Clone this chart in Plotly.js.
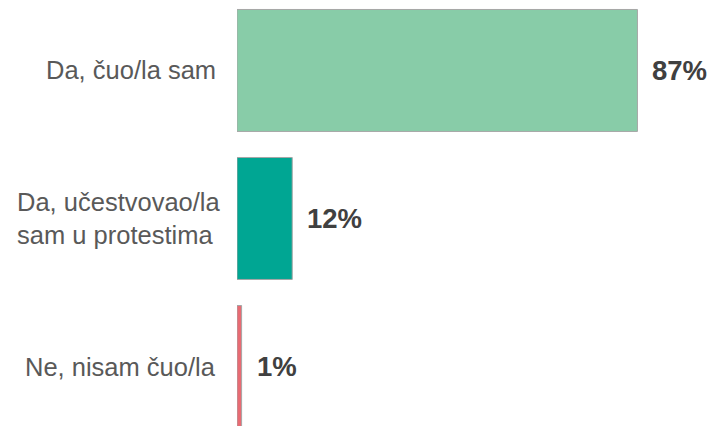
<!DOCTYPE html>
<html>
<head>
<meta charset="utf-8">
<script src="https://cdn.plot.ly/plotly-3.0.1.min.js"></script>
<style>html,body{margin:0;padding:0;background:#fff;}#chart{width:712px;height:426px;}</style>
</head>
<body>
<div id="chart"></div>
<script>
const categories = ["Da, čuo/la sam", "Da, učestvovao/la<br>sam u protestima", "Ne, nisam čuo/la"];
const values = [87, 12, 1];
const valueLabels = ["87%", "12%", "1%"];
const colors = ["#88CCA8", "#00A693", "#E86B73"];

const FONT = "Arial, 'Liberation Sans', sans-serif";

const trace = {
  type: "bar",
  orientation: "h",
  y: categories,
  x: values,
  marker: { color: colors, line: { color: "#A6A6A6", width: 1 } },
  width: 0.824,
  hoverinfo: "none"
};

const annotations = [];
categories.forEach((c, i) => {
  const multi = c.indexOf("<br>") >= 0;
  annotations.push({
    x: values[i], y: c, xref: "x", yref: "y",
    text: valueLabels[i], showarrow: false,
    xanchor: "left", yanchor: "middle", xshift: 13,
    font: { family: FONT, size: 27.5, color: "#404040", weight: "bold" }
  });
  annotations.push({
    x: 0, y: c, xref: "paper", yref: "y",
    text: c, showarrow: false, align: "left",
    xanchor: "right", yanchor: "middle", xshift: multi ? -14 : -19,
    font: { family: FONT, size: 25.5, color: "#595959" }
  });
});

const layout = {
  width: 712, height: 426,
  margin: { l: 237, r: 0, t: 0, b: 0, pad: 0 },
  paper_bgcolor: "#fff", plot_bgcolor: "#fff",
  showlegend: false,
  xaxis: { range: [0, 103.2], visible: false, fixedrange: true },
  yaxis: { type: "category", range: [2.402, -0.476], showticklabels: false,
           showgrid: false, zeroline: false, showline: false, ticks: "", fixedrange: true },
  annotations: annotations,
  font: { family: FONT }
};

Plotly.newPlot("chart", [trace], layout, { staticPlot: true, displayModeBar: false });
</script>
</body>
</html>
